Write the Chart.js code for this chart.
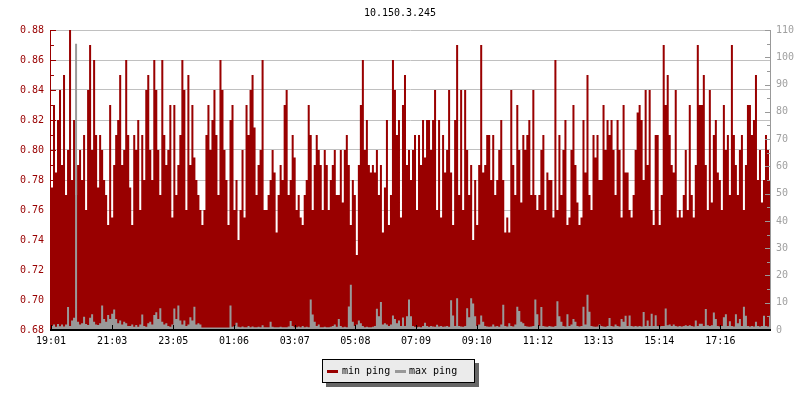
<!DOCTYPE html>
<html>
<head>
<meta charset="utf-8">
<title>10.150.3.245</title>
<script src="https://cdn.jsdelivr.net/npm/chart.js@4.4.1/dist/chart.umd.min.js"></script>
<style>
  body { margin: 0; background: #fff; }
  #contenedor { position: relative; width: 800px; height: 400px; }
  #leyenda {
    position: absolute; left: 322px; top: 359px; width: 151px; height: 22px;
    background: #ebebeb; border: 1px solid #000; box-shadow: 4px 4px 0 #666;
    font: 10px "DejaVu Sans Mono", monospace; color: #000; line-height: 12px;
  }
  #leyenda span { position: absolute; white-space: nowrap; }
  .marca { width: 11px; height: 3px; top: 10px; }
</style>
</head>
<body>
<div id="contenedor">
  <canvas id="myChart" width="800" height="400"></canvas>
  <div id="leyenda">
    <span class="marca" style="left:4px; background:#990000"></span>
    <span style="left:19px; top:5px">min ping</span>
    <span class="marca" style="left:72px; background:#999999"></span>
    <span style="left:86px; top:5px">max ping</span>
  </div>
</div>
<script>
//Datos del grafico (una muestra cada 4 minutos desde las 19:01)
const titulo = "10.150.3.245";
const horaInicio = "19:01";
const minutosPorMuestra = 4;
const etiquetasHora = ["19:01", "21:03", "23:05", "01:06", "03:07", "05:08",
  "07:09", "09:10", "11:12", "13:13", "15:14", "17:16"];

//min ping (eje izquierdo)
const pingMin = [
  0.79,0.775,0.83,0.785,0.82,0.84,0.79,0.85,0.77,0.80,
  0.88,0.78,0.82,0.77,0.79,0.80,0.78,0.81,0.76,0.84,
  0.87,0.80,0.86,0.81,0.775,0.81,0.80,0.78,0.77,0.75,
  0.83,0.755,0.79,0.81,0.82,0.85,0.79,0.80,0.86,0.81,
  0.775,0.75,0.81,0.80,0.82,0.76,0.81,0.78,0.84,0.85,
  0.80,0.78,0.86,0.84,0.80,0.77,0.86,0.81,0.79,0.80,
  0.83,0.755,0.83,0.77,0.79,0.81,0.86,0.84,0.76,0.85,
  0.79,0.83,
  0.795,0.78,0.77,0.76,0.75,0.76,0.81,0.83,0.80,0.82,
  0.84,0.81,0.77,0.86,0.84,0.80,0.78,0.75,0.82,0.83,
  0.76,0.78,0.74,0.76,0.80,0.755,0.83,0.81,0.84,0.85,
  0.815,0.77,0.79,0.80,0.86,0.76,0.76,0.77,0.78,0.80,
  0.785,0.745,0.77,0.79,0.78,0.83,0.84,0.77,0.78,0.81,
  0.795,0.76,0.77,0.755,0.75,0.77,0.78,0.83,0.81,0.76,
  0.79,0.81,0.80,0.79,0.76,0.80,0.79,0.76,0.78,0.79,
  0.80,0.77,
  0.77,0.80,0.765,0.80,0.81,0.79,0.75,0.78,0.77,0.73,
  0.79,0.83,0.86,0.80,0.82,0.79,0.785,0.79,0.785,0.80,
  0.77,0.79,0.745,0.775,0.82,0.75,0.77,0.86,0.84,0.81,
  0.82,0.755,0.83,0.85,0.79,0.80,0.78,0.80,0.81,0.76,
  0.81,0.79,0.82,0.795,0.82,0.82,0.80,0.82,0.84,0.76,
  0.82,0.755,0.81,0.785,0.80,0.84,0.785,0.75,0.82,0.87,
  0.77,0.84,0.76,0.84,0.80,0.77,0.79,0.74,0.78,0.75,
  0.79,0.87,
  0.785,0.79,0.81,0.81,0.78,0.81,0.77,0.78,0.80,0.82,
  0.78,0.745,0.755,0.745,0.84,0.79,0.77,0.83,0.80,0.765,
  0.81,0.80,0.81,0.82,0.77,0.84,0.77,0.76,0.77,0.80,
  0.81,0.76,0.785,0.78,0.78,0.755,0.86,0.76,0.81,0.77,
  0.80,0.82,0.75,0.755,0.80,0.83,0.79,0.765,0.75,0.755,
  0.82,0.785,0.85,0.77,0.76,0.81,0.795,0.81,0.78,0.78,
  0.83,0.80,0.82,0.81,0.82,0.80,0.77,0.82,0.80,0.755,
  0.83,0.785,
  0.785,0.76,0.755,0.77,0.80,0.825,0.83,0.82,0.78,0.84,
  0.79,0.84,0.76,0.75,0.81,0.81,0.75,0.77,0.87,0.83,
  0.85,0.81,0.79,0.785,0.84,0.755,0.76,0.755,0.77,0.80,
  0.76,0.83,0.77,0.755,0.79,0.87,0.83,0.83,0.85,0.79,
  0.76,0.84,0.765,0.81,0.82,0.785,0.78,0.76,0.83,0.80,
  0.81,0.77,0.87,0.81,0.79,0.77,0.80,0.81,0.76,0.79,
  0.83,0.83,0.81,0.82,0.85,0.78,0.80,0.765,0.78,0.81,
  0.80,0.78
];

//max ping (eje derecho)
const pingMax = [
  98,1.5,2,1.2,2.2,1.4,2,1.3,2,8.4,1.5,3.5,4.5,105,3,2,2.5,4.9,2.2,1.8,
  4.5,5.8,3,2,1.8,2.5,9,4,3,5.5,4,6,7.5,4,2.5,3.5,2,3,2.5,1.5,
  1.5,2,1.2,1.8,1.2,2,5.7,1.5,1.2,2.5,3,2,5.5,6.5,4,8,3,2,2.5,1.5,
  1.2,2,7.9,4,9,3.5,2,3.5,1.5,2,4.7,3.5,8.5,2,2.5,2,0.9,0.9,0.9,0.9,
  0.9,0.9,0.9,0.9,0.9,0.9,0.9,0.9,0.9,0.9,9,1.2,1.5,2.7,1.2,1,1.3,1,1,1.5,
  1,1.3,1,1,1.2,1,1.7,1,1,1,3,1.2,1,1,1,1.2,1,1,1,1.3,
  3.3,1.5,1,1,1.3,1,1.5,1,1.2,1,11.2,5.7,3,1.5,2,1,1,1.2,1,1,
  1.2,1.5,2,1.2,4,1.5,1,1.2,1,8.6,16.6,3,1.5,2,3.5,2.5,1.5,1,1.2,1,
  1,1.2,1.5,7.8,5,10.3,2,2.5,2,1.5,2,5.3,4,2.5,3.5,1.5,4.6,1.5,5,11.2,
  5,1.5,1.2,1,1.2,1,1.5,2.7,1.5,1.2,1.5,1.3,1.2,1.9,1.3,1.5,1.2,1.3,1.5,1.2,
  10.9,5.3,1.5,11.6,1.5,1.3,1.2,1.5,8,4.7,11.6,9.7,5,1.5,2,5.3,3,1.5,1.3,1.2,
  1.3,2,1.3,1.5,1.2,2,9.3,1.5,1.3,2.5,1.5,1.3,2,8.5,7,3,2.5,1.5,1.3,1.2,
  1.3,1.5,11.2,5.8,1.5,8.4,1.5,1.3,1.2,1.5,1.3,1.2,1.5,10.5,5,3,1.5,1.3,5.8,1.5,
  2,4,3,1.5,1.3,1.5,8.5,2,12.9,6.7,1.5,1.3,1.2,1.3,2,1.5,1.3,1.2,1.5,4.4,
  1.5,1.3,2,1.5,1.3,4,3,5.2,1.5,5.3,1.5,1.3,1.5,1.3,1.5,1.3,6.6,1.5,3.5,1.5,
  6,1.5,5.4,1.5,1.3,1.5,1.5,7.9,1.7,2,1.5,2,1.5,1.3,1.5,1.3,1.5,1.7,1.5,1.7,
  1.5,1.3,3.5,1.5,2.3,2.3,1.5,7.7,1.7,1.5,1.7,6.4,4,1.5,1.3,1.5,4.7,5.8,1.5,3.2,
  1.5,1.3,5.8,2.5,4,1.5,8.5,5.2,1.5,1.3,1.5,1.3,3,1.5,1.3,1.5,5.2,1.5,1.3,5.2
];

const colorMin = "#990000";
const colorMax = "#999999";
const fuente = "'DejaVu Sans Mono', monospace";

//------------------------------ Funciones auxiliares ------------------------------//
function minutosDesdeInicio(hora) {
  const [h, m] = hora.split(":").map(Number);
  const [h0, m0] = horaInicio.split(":").map(Number);
  return (h * 60 + m - (h0 * 60 + m0) + 1440) % 1440;
}

//cada muestra empieza en su minuto y dura minutosPorMuestra (escalon "after")
function aPuntos(serie) {
  return serie.map((v, i) => ({ x: i * minutosPorMuestra, y: v }));
}

//------------------ Plugin: ejes y marcas hacia dentro (como rrd) -----------------//
const ejesPlugin = {
  id: "ejes",
  afterDatasetsDraw(chart) {
    const ctx = chart.ctx;
    const a = chart.chartArea;
    const ejeY = chart.scales.y;
    const ejeY2 = chart.scales.y2;
    const ejeX = chart.scales.x;
    ctx.save();
    ctx.lineWidth = 1;

    //eje izquierdo
    ctx.strokeStyle = colorMin;
    ctx.beginPath();
    ctx.moveTo(a.left - 0.5, a.top);
    ctx.lineTo(a.left - 0.5, a.bottom);
    ejeY.ticks.forEach((t, i) => {
      const py = Math.round(ejeY.getPixelForValue(t.value)) + 0.5;
      ctx.moveTo(a.left, py);
      ctx.lineTo(a.left + 5, py);
      if (i < ejeY.ticks.length - 1) {
        const medio = (t.value + ejeY.ticks[i + 1].value) / 2;
        const pm = Math.round(ejeY.getPixelForValue(medio)) + 0.5;
        ctx.moveTo(a.left, pm);
        ctx.lineTo(a.left + 3, pm);
      }
    });
    ctx.stroke();

    //eje derecho
    ctx.strokeStyle = colorMax;
    ctx.beginPath();
    ctx.moveTo(a.right + 0.5, a.top);
    ctx.lineTo(a.right + 0.5, a.bottom);
    ejeY2.ticks.forEach((t, i) => {
      const py = Math.round(ejeY2.getPixelForValue(t.value)) + 0.5;
      ctx.moveTo(a.right, py);
      ctx.lineTo(a.right - 5, py);
      if (i < ejeY2.ticks.length - 1) {
        const medio = (t.value + ejeY2.ticks[i + 1].value) / 2;
        const pm = Math.round(ejeY2.getPixelForValue(medio)) + 0.5;
        ctx.moveTo(a.right, pm);
        ctx.lineTo(a.right - 3, pm);
      }
    });
    ctx.stroke();

    //eje inferior
    ctx.fillStyle = "#000";
    ctx.fillRect(a.left - 1, a.bottom - 1, a.right - a.left + 2, 2);
    ctx.strokeStyle = "#000";
    ctx.beginPath();
    ejeX.ticks.forEach((t) => {
      const px = Math.round(ejeX.getPixelForValue(t.value)) + 0.5;
      ctx.moveTo(px, a.bottom - 1);
      ctx.lineTo(px, a.bottom - 5);
    });
    ctx.stroke();
    ctx.restore();
  }
};

//------------------------------ Configuracion ------------------------------//
const config = {
  type: "line",
  data: {
    datasets: [
      {
        label: "max ping",
        data: aPuntos(pingMax),
        yAxisID: "y2",
        stepped: "after",
        fill: "origin",
        backgroundColor: colorMax,
        borderColor: "rgba(0,0,0,0)",
        borderWidth: 0,
        pointRadius: 0,
        order: 0
      },
      {
        label: "min ping",
        data: aPuntos(pingMin),
        yAxisID: "y",
        stepped: "after",
        fill: { value: 0.68 },
        backgroundColor: colorMin,
        borderColor: "rgba(0,0,0,0)",
        borderWidth: 0,
        pointRadius: 0,
        order: 1
      }
    ]
  },
  options: {
    responsive: false,
    animation: false,
    devicePixelRatio: 1,
    layout: { padding: 0 },
    plugins: {
      legend: { display: false },
      tooltip: { enabled: false },
      title: {
        display: true,
        text: titulo,
        color: "#000",
        font: { family: fuente, size: 10, weight: "normal" },
        padding: { top: 7, bottom: 11 }
      }
    },
    scales: {
      x: {
        type: "linear",
        offset: false,
        min: 0,
        max: 1434,
        grid: { display: false, drawTicks: false },
        border: { display: false },
        afterBuildTicks: (s) => {
          s.ticks = etiquetasHora.map((h) => ({ value: minutosDesdeInicio(h) }));
        },
        ticks: {
          autoSkip: false,
          maxRotation: 0,
          color: "#000",
          padding: 5,
          font: { family: fuente, size: 10 },
          callback: (v, i) => etiquetasHora[i]
        },
        afterFit: (s) => { s.height = 70; }
      },
      y: {
        position: "left",
        min: 0.68,
        max: 0.88,
        grid: { color: "#c0c0c0", drawTicks: false },
        border: { display: false },
        ticks: {
          stepSize: 0.02,
          color: colorMin,
          padding: 7,
          font: { family: fuente, size: 10 },
          callback: (v) => Number(v).toFixed(2)
        },
        afterFit: (s) => { s.width = 51; }
      },
      y2: {
        position: "right",
        min: 0,
        max: 110,
        grid: { display: false, drawTicks: false },
        border: { display: false },
        ticks: {
          stepSize: 10,
          color: "#a0a0a0",
          padding: 6,
          font: { family: fuente, size: 10 }
        },
        afterFit: (s) => { s.width = 30; }
      }
    }
  },
  plugins: [ejesPlugin]
};

//Renderizado
const chartDOM = document.getElementById("myChart");
new Chart(chartDOM, config);
</script>
</body>
</html>
